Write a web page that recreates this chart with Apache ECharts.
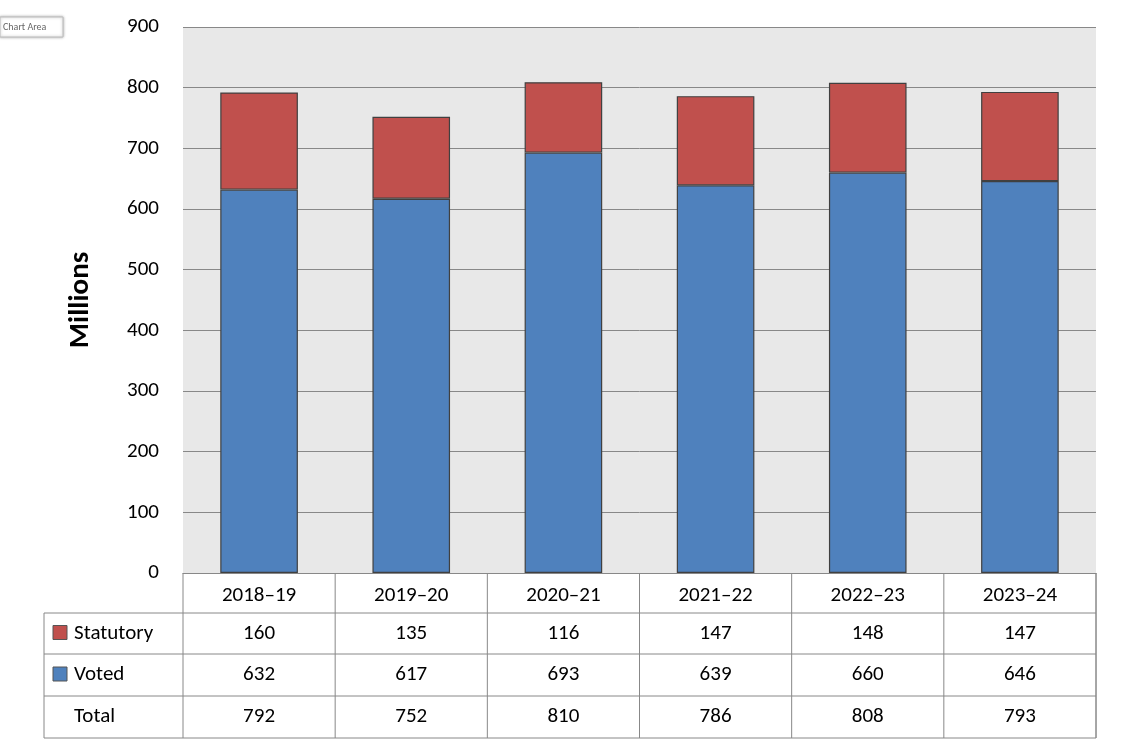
<!DOCTYPE html>
<html><head><meta charset="utf-8">
<script src="https://cdn.jsdelivr.net/npm/echarts@6/dist/echarts.min.js"></script>
<style>html,body{margin:0;background:#fff}#c{width:1125px;height:750px}</style>
</head><body><div id="c"></div>
<script>
const categories = ['2018–19','2019–20','2020–21','2021–22','2022–23','2023–24'];
const voted = [632,617,693,639,660,646];
const statutory = [160,135,116,147,148,147];
const total = [792,752,810,786,808,793];
const yTicks = [0,100,200,300,400,500,600,700,800,900];

const L=183,R=1096,T=27,B=573;
const rows=[613,654,696,738];
const colW=(R-L)/categories.length;
const font='Calibri, Carlito, "Liberation Sans", Arial, sans-serif';
const g=[];
const line=(x1,y1,x2,y2)=>g.push({type:'line',shape:{x1,y1,x2,y2},style:{stroke:'#888',lineWidth:1},silent:true});
// table grid
line(L,B,L,rows[3]); line(44,rows[0],44,rows[3]);
for(let i=1;i<=categories.length;i++) line(L+colW*i,B,L+colW*i,rows[3]);
line(R,B,R,rows[3]);
rows.forEach(y=>line(44,y,R,y));
const labels=[['Statutory','#c0504d',statutory],['Voted','#4f81bd',voted],['Total',null,total]];
labels.forEach((r,k)=>{
  const yc=(rows[k]+rows[k+1])/2;
  if(r[1]) g.push({type:'rect',shape:{x:53,y:yc-8,width:14,height:14},style:{fill:r[1],stroke:'#555',lineWidth:1}});
  g.push({type:'text',style:{text:r[0],x:r[1]?74:74,y:yc,verticalAlign:'middle',font:'21px '+font,fill:'#000'}});
  r[2].forEach((v,i)=>g.push({type:'text',style:{text:String(v),x:L+colW*(i+0.5),y:yc,align:'center',verticalAlign:'middle',font:'21px '+font,fill:'#000'}}));
});
g.push({type:'rect',shape:{x:0,y:17,width:63,height:20},style:{fill:'#fff',stroke:'#bbb',lineWidth:1,shadowBlur:3,shadowColor:'rgba(0,0,0,0.3)'}});
g.push({type:'text',style:{text:'Chart Area',x:3,y:27,verticalAlign:'middle',font:'10px '+font,fill:'#666'}});

const chart=echarts.init(document.getElementById('c'));
chart.setOption({
  animation:false,
  grid:{left:L,right:1125-R,top:T,bottom:750-B,show:true,backgroundColor:'#e8e8e8',borderWidth:0},
  xAxis:{type:'category',data:categories,axisTick:{show:false},axisLine:{lineStyle:{color:'#888'}},
    axisLabel:{color:'#000',fontSize:21,fontFamily:font,margin:12}},
  yAxis:{type:'value',min:0,max:900,interval:100,name:'Millions',nameLocation:'middle',nameGap:88,
    nameTextStyle:{fontSize:29,fontWeight:'bold',color:'#000',fontFamily:font},
    axisLabel:{color:'#000',fontSize:21,fontFamily:font,margin:24},
    axisLine:{show:false},splitLine:{lineStyle:{color:'#888'}}},
  series:[
    {name:'Voted',type:'bar',stack:'a',data:voted,barWidth:'51%',itemStyle:{color:'#4f81bd',borderColor:'#404040',borderWidth:1.2}},
    {name:'Statutory',type:'bar',stack:'a',data:statutory,itemStyle:{color:'#c0504d',borderColor:'#404040',borderWidth:1.2}}
  ],
  graphic:g
});
</script></body></html>
